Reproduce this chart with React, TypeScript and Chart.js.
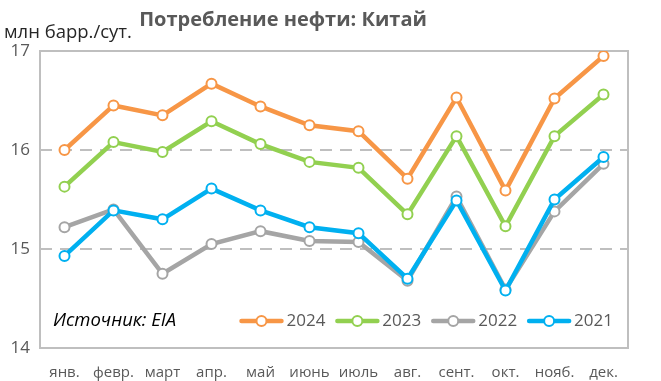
import { useEffect, useRef } from "react";
import { Chart, registerables } from "chart.js";
Chart.register(...registerables);

const months = ["янв.", "февр.", "март", "апр.", "май", "июнь", "июль", "авг.", "сент.", "окт.", "нояб.", "дек."];
const seriesNames = ["2024", "2023", "2022", "2021"];
const values2024 = [16.0, 16.45, 16.35, 16.67, 16.44, 16.25, 16.19, 15.71, 16.53, 15.59, 16.52, 16.95];
const values2023 = [15.63, 16.08, 15.98, 16.29, 16.06, 15.88, 15.82, 15.35, 16.14, 15.23, 16.14, 16.56];
const values2022 = [15.22, 15.4, 14.75, 15.05, 15.18, 15.08, 15.07, 14.68, 15.53, 14.59, 15.38, 15.86];
const values2021 = [14.93, 15.39, 15.3, 15.61, 15.39, 15.22, 15.16, 14.7, 15.49, 14.58, 15.5, 15.93];
const seriesColors = ["#F79646", "#92D050", "#A5A5A5", "#00B0F0"];
const yMin = 14;
const yMax = 17;
const dashedTicks = [15, 16];
const titleText = "Потребление нефти: Китай";
const unitText = "млн барр./сут.";
const sourceText = "Источник: EIA";

const FONT = "'Open Sans', 'Noto Sans', sans-serif";

export default function App() {
  const ref = useRef<HTMLCanvasElement | null>(null);

  useEffect(() => {
    const canvas = ref.current;
    if (!canvas) return;
    const allValues = [values2024, values2023, values2022, values2021];
    // draw later series on top (2021 over 2022)
    const datasets = [3, 2, 1, 0].map((i) => ({
      label: seriesNames[i],
      data: allValues[i],
      borderColor: seriesColors[i],
      backgroundColor: "#FFFFFF",
      borderWidth: 4.5,
      pointRadius: 5,
      pointBorderWidth: 2,
      pointBackgroundColor: "#FFFFFF",
      pointBorderColor: seriesColors[i],
      tension: 0,
    }));

    const decor = {
      id: "decor",
      beforeDatasetsDraw(chart: any) {
        const { ctx, chartArea } = chart;
        ctx.save();
        ctx.strokeStyle = "#BFBFBF";
        ctx.lineWidth = 2;
        ctx.strokeRect(chartArea.left, chartArea.top, chartArea.right - chartArea.left, chartArea.bottom - chartArea.top);
        ctx.restore();
      },
      afterDraw(chart: any) {
        const { ctx, chartArea } = chart;
        ctx.save();
        ctx.textBaseline = "middle";
        // title
        ctx.fillStyle = "#595959";
        ctx.font = `bold 20px ${FONT}`;
        ctx.textAlign = "center";
        ctx.fillText(titleText, 283, 20);
        // unit
        ctx.fillStyle = "#262626";
        ctx.font = `18.5px ${FONT}`;
        ctx.textAlign = "left";
        ctx.fillText(unitText, 4, 33);
        // source
        ctx.fillStyle = "#000000";
        ctx.font = `italic 18.5px ${FONT}`;
        ctx.fillText(sourceText, chartArea.left + 13, 321);
        // legend
        ctx.font = `17px ${FONT}`;
        const lineLen = 44;
        const gapText = 3;
        const gapItem = 10;
        const widths = seriesNames.map((n) => lineLen + gapText + ctx.measureText(n).width);
        let x = chartArea.right - 15 - widths.reduce((a, b) => a + b, 0) - gapItem * (widths.length - 1);
        const y = 321;
        seriesNames.forEach((n, i) => {
          ctx.strokeStyle = seriesColors[i];
          ctx.lineWidth = 4.5;
          ctx.lineCap = "round";
          ctx.beginPath();
          ctx.moveTo(x + 2, y);
          ctx.lineTo(x + lineLen - 2, y);
          ctx.stroke();
          ctx.beginPath();
          ctx.arc(x + lineLen / 2, y, 5, 0, Math.PI * 2);
          ctx.fillStyle = "#FFFFFF";
          ctx.fill();
          ctx.lineWidth = 2;
          ctx.stroke();
          ctx.fillStyle = "#595959";
          ctx.fillText(n, x + lineLen + gapText, y);
          x += widths[i] + gapItem;
        });
        ctx.restore();
      },
    };

    const chart = new Chart(canvas, {
      type: "line",
      data: { labels: months, datasets },
      options: {
        animation: false,
        responsive: false,
        layout: { padding: { top: 51, right: 33, left: 0, bottom: 0 } },
        plugins: { legend: { display: false }, tooltip: { enabled: false }, title: { display: false } },
        scales: {
          x: {
            offset: true,
            grid: { display: false, drawTicks: false },
            border: { display: false },
            ticks: { color: "#595959", font: { family: FONT, size: 15 }, padding: 16, maxRotation: 0, autoSkip: false },
            afterFit(scale: any) {
              scale.height = 33;
            },
          },
          y: {
            min: yMin,
            max: yMax,
            grid: {
              drawTicks: false,
              lineWidth: 2,
              color: (c: any) => (dashedTicks.includes(c.tick?.value) ? "#BFBFBF" : "rgba(0,0,0,0)"),
            },
            border: { display: false, dash: [12, 8] },
            ticks: { stepSize: 1, color: "#595959", font: { family: FONT, size: 17 }, padding: 10 },
            afterFit(scale: any) {
              scale.width = 40;
            },
          },
        },
      },
      plugins: [decor],
    });
    return () => chart.destroy();
  }, []);

  return (
    <div style={{ position: "absolute", left: 0, top: 0, width: 661, height: 381, background: "#fff" }}>
      <canvas ref={ref} width={661} height={381} />
    </div>
  );
}
